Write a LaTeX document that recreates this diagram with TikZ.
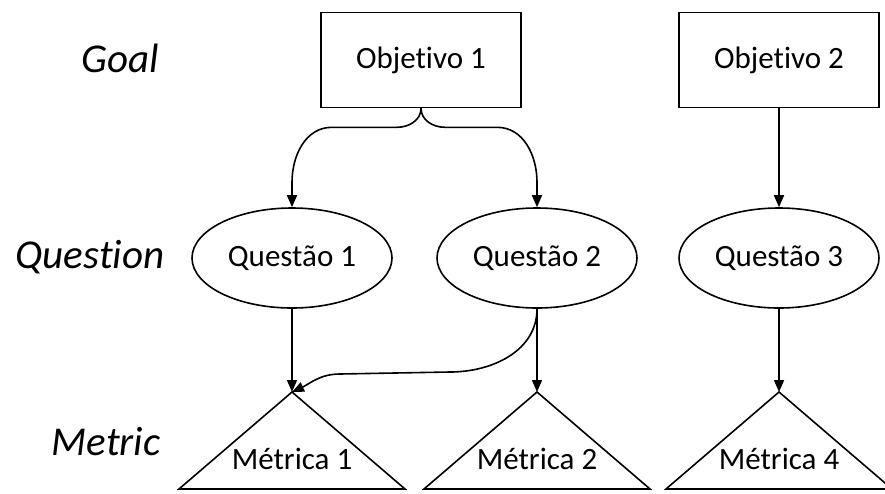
\documentclass[tikz,border=0pt]{standalone}
\usepackage{fontspec}
\setmainfont{Carlito}[Ligatures={NoCommon}]
\usetikzlibrary{shapes.geometric,arrows.meta}
\begin{document}
\begin{tikzpicture}[x=1pt,y=-1pt,
  every node/.style={font=\fontsize{31}{34}\selectfont},
  goalbox/.style={draw,line width=1.6pt,minimum width=200pt,minimum height=95pt,inner sep=0pt},
  qell/.style={draw,ellipse,line width=1.6pt,minimum width=200pt,minimum height=100pt,inner sep=0pt},
  tri/.style={draw,line width=1.6pt,line join=miter},
  lvl/.style={font=\itshape\fontsize{41}{44}\selectfont,anchor=base,inner sep=0pt},
  arr/.style={line width=1.6pt,-{Triangle[length=12pt,width=10pt]}}]
\useasboundingbox (0,0) rectangle (885,493);
% level labels
\node[lvl] (lgoal) at (120,72) {Goal};
\node[lvl] (lq) at (90,268) {Question};
\node[lvl] (lm) at (106,455) {Metric};
% goals
\node[goalbox] (o1) at (421,60) {Objetivo 1};
\node[goalbox] (o2) at (779,60) {Objetivo 2};
% questions
\node[qell] (q1) at (292,258) {Questão 1};
\node[qell] (q2) at (537,258) {Questão 2};
\node[qell] (q3) at (779,258) {Questão 3};
% metrics (triangles)
\coordinate (m1) at (292,392);
\coordinate (m2) at (537,392);
\coordinate (m4) at (779,392);
\draw[tri] (m1) -- ++(113,97) -- ++(-226,0) -- cycle;
\draw[tri] (m2) -- ++(113,97) -- ++(-226,0) -- cycle;
\draw[tri] (m4) -- ++(113,97) -- ++(-226,0) -- cycle;
\node (t1) at (292,459) {Métrica 1};
\node (t2) at (537,459) {Métrica 2};
\node (t4) at (779,459) {Métrica 4};
% connectors
\draw[arr] (o1.south) to[out=-90,in=0] ++(-24,19) -- ++(-65,0)
   to[out=180,in=90] ++(-40,55) -- (q1.north);
\draw[arr] (o1.south) to[out=-90,in=180] ++(24,19) -- ++(52,0)
   to[out=0,in=90] ++(40,55) -- (q2.north);
\draw[arr] (o2.south) -- (q3.north);
\draw[arr] (q1.south) -- (m1);
\draw[arr] (q2.south) -- (m2);
\draw[arr] (q3.south) -- (m4);
\draw[arr] (q2.south) to[out=-90,in=0] (450,372) -- (340,374) to[out=180,in=25] (m1);
\end{tikzpicture}
\end{document}
